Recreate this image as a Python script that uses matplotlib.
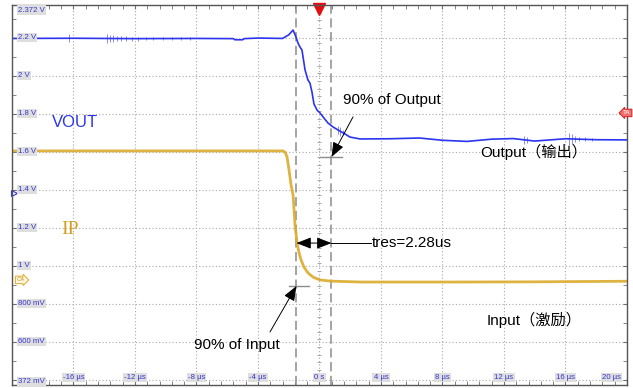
import matplotlib.pyplot as plt
import numpy as np

plt.rcParams['font.family'] = ['Liberation Sans', 'Noto Sans CJK SC', 'DejaVu Sans']

# 输出电压 VOUT (时间 us, 电压 V)
vout_t = [-20.0, -16.0, -12.0, -8.0, -5.6, -5.5, -5.0, -4.9, -4.0, -2.4, -2.0, -1.72,
          -1.53, -1.40, -1.27, -1.14, -0.94, -0.75, -0.62, -0.49, -0.36, -0.16, 0.03,
          0.29, 0.55, 0.88, 1.25, 1.66, 1.98, 2.63, 4.6, 6.5, 8.0, 9.6, 11.2, 12.6,
          14.0, 16.0, 18.0, 20.0]
vout_v = [2.196, 2.197, 2.195, 2.196, 2.195, 2.189, 2.189, 2.195, 2.198, 2.196, 2.215, 2.240,
          2.204, 2.172, 2.151, 2.135, 2.030, 1.977, 1.961, 1.914, 1.851, 1.819, 1.804,
          1.777, 1.751, 1.730, 1.712, 1.693, 1.677, 1.667, 1.668, 1.672, 1.660, 1.654,
          1.666, 1.669, 1.656, 1.668, 1.663, 1.662]

# VOUT 上的噪声毛刺 (时间 us, 幅度 V)
spike_t = [-16.3, -13.8, -13.6, -13.4, -13.2, -12.9, -12.6, -12.2, -11.8, -11.3, -10.8,
           -10.2, -9.6, -9.0, -8.4, 1.2, 1.35, 1.5, 13.3, 13.5, 16.2, 16.4, 16.6, 16.9,
           17.3, 17.7]
spike_dv = [0.02, 0.025, 0.02, 0.018, 0.015, 0.012, 0.012, 0.01, 0.01, 0.008, 0.008,
            0.008, 0.006, 0.006, 0.006, 0.02, 0.025, 0.015, 0.02, 0.015, 0.03, 0.025,
            0.018, 0.012, 0.01, 0.008]

# 输入激励 IP
ip_t = [-20.0, -10.0, -2.37, -2.24, -2.11, -1.98, -1.85, -1.72, -1.59, -1.46, -1.33,
        -1.20, -1.01, -0.75, -0.42, 0.03, 0.68, 2.63, 9.14, 14.0, 20.0]
ip_v = [1.604, 1.604, 1.604, 1.598, 1.572, 1.503, 1.425, 1.372, 1.214, 1.120, 1.067,
        1.030, 0.993, 0.962, 0.940, 0.925, 0.919, 0.914, 0.914, 0.915, 0.918]

# 光标位置 (us)
cursor_t = [-1.50, 0.78]
tres = 2.28

# 刻度标签
y_tick_pos = [2.345, 2.2, 2.0, 1.8, 1.6, 1.4, 1.2, 1.0, 0.8, 0.6, 0.39]
y_tick_labels = ['2.372 V', '2.2 V', '2 V', '1.8 V', '1.6 V', '1.4 V', '1.2 V', '1 V',
                 '800 mV', '600 mV', '372 mV']
x_tick_pos = [-16, -12, -8, -4, 0, 4, 8, 12, 16, 19.6]
x_tick_labels = ['-16 µs', '-12 µs', '-8 µs', '-4 µs', '0 s', '4 µs', '8 µs', '12 µs',
                 '16 µs', '20 µs']

VMIN, VMAX = 0.372, 2.372
blue = '#2b35f0'
gold = '#dcab2c'

fig = plt.figure(figsize=(6.33, 3.88), dpi=100)
ax = fig.add_axes([12 / 633, 3 / 388, 615 / 633, 380 / 388])
ax.set_xlim(-20, 20)
ax.set_ylim(VMIN, VMAX)

# 网格与边框刻度
ax.set_xticks(np.arange(-20, 21, 4))
ax.set_xticks(np.arange(-20, 20.01, 0.8), minor=True)
ax.set_yticks(np.arange(0.4, 2.3, 0.2))
ax.set_yticks(np.arange(0.4, 2.372, 0.1), minor=True)
ax.tick_params(which='both', direction='in', length=3, color='#707070',
               top=True, right=True, labelleft=False, labelbottom=False)
ax.grid(which='major', linestyle=(0, (1, 2)), color='#a8a8a8', lw=0.8)
for s in ax.spines.values():
    s.set_color('#555555')
    s.set_linewidth(1)

# 中心线上的小刻度
cy = np.arange(0.412, VMAX, 0.04)
ax.plot(np.zeros(len(cy)), cy, ls='none', marker='_', ms=3, color='#a8a8a8', mew=0.7)

# 光标
for ct in cursor_t:
    ax.axvline(ct, color='#8c8c8c', lw=1.1, ls=(0, (6, 3)))

# 波形
ax.plot(ip_t, ip_v, color=gold, lw=2.0, alpha=0.9, solid_joinstyle='round')
ax.plot(vout_t, vout_v, color=blue, lw=1.2, solid_joinstyle='round')
base = np.interp(spike_t, vout_t, vout_v)
ax.vlines(spike_t, base - np.array(spike_dv), base + np.array(spike_dv),
          color=blue, lw=0.5, alpha=0.8)

# 刻度标签（灰底蓝字）
for pos, lab in zip(y_tick_pos, y_tick_labels):
    ax.text(-19.6, pos, lab, fontsize=5.6, color='#3535d0', va='center', ha='left',
            bbox=dict(boxstyle='square,pad=0.15', fc='#dedede', ec='none'))
for pos, lab in zip(x_tick_pos, x_tick_labels):
    ax.text(pos, 0.41, lab, fontsize=5.6, color='#3535d0', va='center',
            ha='right' if pos > 19 else 'center',
            bbox=dict(boxstyle='square,pad=0.15', fc='#dedede', ec='none'))

# 通道标记
ax.plot(0, VMAX - 0.02, marker='v', ms=8, color='#e01010', clip_on=False)
ax.plot(-19.85, 1.384, marker='>', ms=4, mfc='white', mec='#3030e0', mew=0.8, clip_on=False)
ax.text(-19.7, 0.925, 'C4', fontsize=4.5, color='#c09020', va='center', ha='left',
        bbox=dict(boxstyle='rarrow,pad=0.2', fc='#fff6dc', ec=gold, lw=0.7))
ax.text(19.75, 1.804, 'TA', fontsize=4.5, color='white', va='center', ha='left',
        clip_on=False,
        bbox=dict(boxstyle='larrow,pad=0.2', fc='#f07070', ec='#d02020', lw=0.7))

# 通道名
ax.text(-17.4, 1.756, 'VOUT', fontsize=12, color=blue, va='center', ha='left')
ax.text(-16.8, 1.19, 'IP', fontsize=14, color='#d4a020', va='center', ha='left',
        family='Liberation Serif')

# 90% 标记
ax.plot([0.03, 1.46], [1.572, 1.572], color='#8c8c8c', lw=1)
ax.plot([-1.98, -0.68], [0.893, 0.893], color='#8c8c8c', lw=1)

arrow = dict(arrowstyle='-|>,head_length=0.9,head_width=0.35', color='black', lw=0.7,
             shrinkA=0, shrinkB=0)
ax.annotate('', xy=(cursor_t[1], 1.572), xytext=(2.18, 1.783), arrowprops=arrow)
ax.annotate('', xy=(cursor_t[0], 0.893), xytext=(-3.22, 0.651), arrowprops=arrow)
ax.text(1.53, 1.872, '90% of Output', fontsize=11, va='center', ha='left')
ax.text(-8.16, 0.583, '90% of Input', fontsize=11, va='center', ha='left')

# 响应时间
ax.annotate('', xy=(cursor_t[0], 1.119), xytext=(cursor_t[1], 1.119),
            arrowprops=dict(arrowstyle='<|-|>,head_length=0.9,head_width=0.35',
                            color='black', lw=0.7, shrinkA=0, shrinkB=0))
ax.plot([cursor_t[1], 3.35], [1.119, 1.119], color='black', lw=0.7)
ax.text(3.41, 1.119, 'tres=%.2fus' % tres, fontsize=11, va='center', ha='left')

ax.text(10.44, 1.598, 'Output（输出）', fontsize=11, va='center', ha='left')
ax.text(10.89, 0.714, 'Input（激励）', fontsize=11, va='center', ha='left')

fig.savefig('out.png', dpi=100, facecolor='white')
